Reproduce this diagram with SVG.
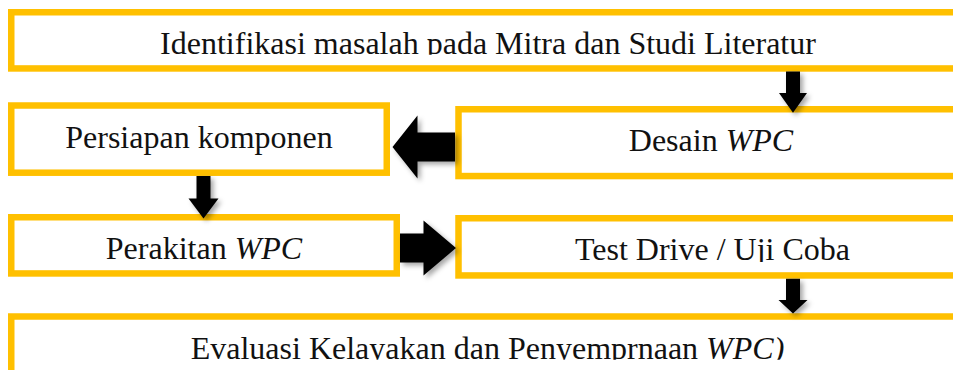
<svg xmlns="http://www.w3.org/2000/svg" width="953" height="370" viewBox="0 0 953 370">
  <defs>
    <style>
      .box { fill: #ffffff; stroke: #FFC000; stroke-width: 6.5; }
      .lbl { font-family: "Liberation Serif", "Times New Roman", serif; font-size: 32px; fill: #111111; text-anchor: middle; }
      .it { font-style: italic; }
      .arrow { fill: #000000; filter: url(#shadow); }
    </style>
    <filter id="shadow" x="-50%" y="-50%" width="200%" height="200%">
      <feDropShadow dx="3" dy="3" stdDeviation="2.5" flood-color="#000000" flood-opacity="0.35"/>
    </filter>
    <clipPath id="clip1"><rect x="0" y="0" width="953" height="54.8"/></clipPath>
    <clipPath id="clip5"><rect x="0" y="200" width="953" height="62"/></clipPath>
    <clipPath id="clip6"><rect x="0" y="300" width="953" height="59.8"/></clipPath>
  </defs>

  <g id="node-identifikasi">
    <rect class="box" x="11.25" y="12.25" width="953.5" height="56.2"/>
    <text class="lbl" x="488" y="54" clip-path="url(#clip1)">Identifikasi masalah pada Mitra dan Studi Literatur</text>
  </g>

  <g id="node-persiapan">
    <rect class="box" x="11.25" y="105.5" width="375.5" height="67.2"/>
    <text class="lbl" x="199" y="148.3">Persiapan komponen</text>
  </g>

  <g id="node-desain">
    <rect class="box" x="458.5" y="109.25" width="520" height="66.8"/>
    <text class="lbl" x="711" y="151">Desain <tspan class="it">WPC</tspan></text>
  </g>

  <g id="node-perakitan">
    <rect class="box" x="11.25" y="217.25" width="385.5" height="56.2"/>
    <text class="lbl" x="204" y="259">Perakitan <tspan class="it">WPC</tspan></text>
  </g>

  <g id="node-testdrive">
    <rect class="box" x="458.5" y="218.25" width="510" height="57.2"/>
    <text class="lbl" x="712.5" y="260" clip-path="url(#clip5)">Test Drive / Uji Coba</text>
  </g>

  <g id="node-evaluasi">
    <rect class="box" x="11.25" y="316.5" width="953.5" height="100"/>
    <text class="lbl" x="487.5" y="359" clip-path="url(#clip6)">Evaluasi Kelayakan dan Penyemprnaan <tspan class="it">WPC)</tspan></text>
  </g>

  <g id="connectors">
    <path class="arrow" d="M786,71.5 H800 V93 H807 L793,112.7 L779,93 H786 Z"/>
    <path class="arrow" d="M455,132.5 V161.5 H417.5 V178.5 L392.5,147 L417.5,115.5 V132.5 Z"/>
    <path class="arrow" d="M196.5,176 H210.5 V198.5 H218.5 L203.5,218.5 L188.5,198.5 H196.5 Z"/>
    <path class="arrow" d="M400,233.5 H423.5 V220.5 L456,248 L423.5,275.5 V262.5 H400 Z"/>
    <path class="arrow" d="M786,278.7 H800 V300 H807.5 L793,313.5 L778.5,300 H786 Z"/>
  </g>
</svg>
